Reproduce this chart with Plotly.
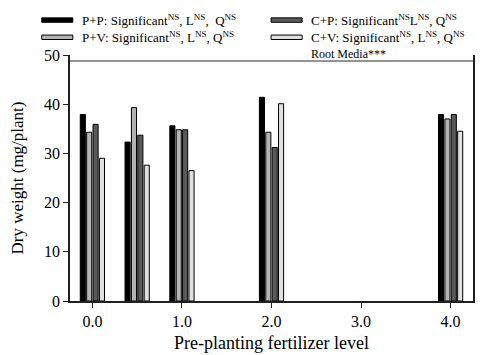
import plotly.graph_objects as go

# Pre-planting fertilizer levels and dry weight (mg/plant) per treatment
levels = [0.0, 0.5, 1.0, 2.0, 4.0]
series_names = ["P+P", "P+V", "C+P", "C+V"]
pp = [37.9, 32.3, 35.6, 41.4, 37.9]
pv = [34.3, 39.3, 34.8, 34.3, 37.0]
cp = [35.9, 33.7, 34.8, 31.2, 37.9]
cv = [29.0, 27.6, 26.5, 40.1, 34.5]
values = [pp, pv, cp, cv]
colors = ["#000000", "#b4b4b4", "#5a5a5a", "#e0e0e0"]

legend_text = {
    "P+P": "P+P: Significant<sup>NS</sup>, L<sup>NS</sup>,&nbsp; Q<sup>NS</sup>",
    "P+V": "P+V: Significant<sup>NS</sup>, L<sup>NS</sup>, Q<sup>NS</sup>",
    "C+P": "C+P: Significant<sup>NS</sup>L<sup>NS</sup>, Q<sup>NS</sup>",
    "C+V": "C+V: Significant<sup>NS</sup>, L<sup>NS</sup>, Q<sup>NS</sup>",
}

tick_vals = [0, 1, 2, 3, 4]
tick_text = ["0.0", "1.0", "2.0", "3.0", "4.0"]
y_ticks = [0, 10, 20, 30, 40, 50]

SERIF = "Liberation Serif"

fig = go.Figure()
for name, vals, col in zip(series_names, values, colors):
    fig.add_trace(go.Bar(
        x=levels, y=vals, name=name,
        marker=dict(color=col, line=dict(color="#000000", width=1)),
        showlegend=False,
    ))

# Hand-built two-column key above the plot area
legend_slots = {
    "P+P": (0, 0), "C+P": (1, 0),
    "P+V": (0, 1), "C+V": (1, 1),
}
col_patch_x = [(-0.070, 0.007), (0.499, 0.576)]
col_text_x = [0.024, 0.593]
row_y = [1.142, 1.072]
shapes = []
annotations = []
for name, col in zip(series_names, colors):
    c, r = legend_slots[name]
    x0, x1 = col_patch_x[c]
    yc = row_y[r]
    shapes.append(dict(type="rect", xref="paper", yref="paper",
                       x0=x0, x1=x1, y0=yc - 0.009, y1=yc + 0.009,
                       fillcolor=col, line=dict(color="#000000", width=1)))
    annotations.append(dict(xref="paper", yref="paper", x=col_text_x[c], y=yc,
                            xanchor="left", yanchor="middle", showarrow=False,
                            text=legend_text[name],
                            font=dict(family=SERIF, size=13, color="#000000")))

# Root media significance bracket
shapes.append(dict(type="line", xref="paper", yref="y", x0=0, x1=1, y0=48.8, y1=48.8,
                   line=dict(color="#707070", width=1.5)))
annotations.append(dict(xref="paper", yref="paper", x=0.593, y=1.005, xanchor="left",
                        yanchor="middle", showarrow=False, text="Root Media***",
                        font=dict(family=SERIF, size=12, color="#000000")))

fig.update_layout(
    width=490, height=355,
    margin=dict(l=70, r=17, t=55, b=54),
    paper_bgcolor="white", plot_bgcolor="white",
    barmode="group", bargap=0.43, bargroupgap=0.2,
    font=dict(family=SERIF, color="#000000"),
    shapes=shapes, annotations=annotations,
    xaxis=dict(
        range=[-0.25, 4.25], tickvals=tick_vals, ticktext=tick_text,
        showgrid=False, zeroline=False, showline=True, linecolor="#202020",
        linewidth=1.5, ticks="outside", ticklen=5, tickcolor="#202020",
        tickfont=dict(family=SERIF, size=16), automargin=False,
        title=dict(text="Pre-planting fertilizer level",
                   font=dict(family=SERIF, size=18), standoff=7),
    ),
    yaxis=dict(
        range=[0, 50], tickvals=y_ticks, showgrid=False, zeroline=False,
        showline=True, mirror=True, linecolor="#202020", linewidth=1.5,
        ticks="outside", ticklen=5, tickcolor="#202020",
        tickfont=dict(family=SERIF, size=16), automargin=False,
        title=dict(text="Dry weight (mg/plant)",
                   font=dict(family=SERIF, size=17), standoff=16),
    ),
)

fig.write_html("out.html")
